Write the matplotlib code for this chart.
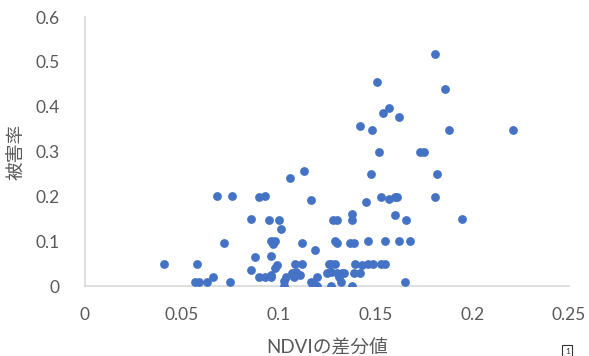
import matplotlib.pyplot as plt
from matplotlib.patches import Rectangle

plt.rcParams['font.family'] = ['Lato', 'Noto Sans CJK JP', 'DejaVu Sans']

# NDVI difference vs damage rate
ndvi_diff = [
    0.041, 0.057, 0.059, 0.058, 0.063, 0.066, 0.068, 0.072, 0.076, 0.075,
    0.086, 0.088, 0.086, 0.090, 0.093, 0.090, 0.093, 0.095, 0.100, 0.101,
    0.096, 0.098, 0.097, 0.096, 0.099, 0.098, 0.096, 0.096, 0.106, 0.113,
    0.117, 0.112, 0.119, 0.1085, 0.112, 0.104, 0.103, 0.103, 0.107, 0.109,
    0.111, 0.108, 0.117, 0.119, 0.120, 0.118, 0.120, 0.126, 0.127, 0.129,
    0.125, 0.127, 0.130, 0.131, 0.133, 0.134, 0.127, 0.132, 0.138, 0.128,
    0.130, 0.138, 0.138, 0.129, 0.130, 0.137, 0.139, 0.1395, 0.1476, 0.182,
    0.153, 0.157, 0.160, 0.161, 0.181, 0.145, 0.160, 0.166, 0.146, 0.155,
    0.162, 0.168, 0.143, 0.146, 0.149, 0.153, 0.155, 0.139, 0.142, 0.1655,
    0.181, 0.151, 0.186, 0.157, 0.154, 0.162, 0.142, 0.148, 0.188, 0.221,
    0.152, 0.173, 0.175, 0.195,
]
damage_rate = [
    0.050, 0.010, 0.010, 0.050, 0.010, 0.020, 0.200, 0.095, 0.200, 0.010,
    0.150, 0.065, 0.035, 0.020, 0.020, 0.198, 0.200, 0.148, 0.147, 0.127,
    0.100, 0.100, 0.093, 0.068, 0.047, 0.041, 0.025, 0.020, 0.240, 0.257,
    0.192, 0.097, 0.081, 0.049, 0.049, 0.019, 0.012, 0.000, 0.028, 0.032,
    0.025, 0.021, 0.010, 0.003, 0.000, 0.000, 0.019, 0.048, 0.048, 0.048,
    0.028, 0.032, 0.028, 0.021, 0.028, 0.028, 0.000, 0.008, 0.000, 0.148,
    0.148, 0.160, 0.147, 0.100, 0.095, 0.095, 0.097, 0.048, 0.250, 0.250,
    0.199, 0.194, 0.199, 0.199, 0.199, 0.187, 0.158, 0.148, 0.100, 0.100,
    0.100, 0.100, 0.047, 0.049, 0.049, 0.049, 0.049, 0.030, 0.030, 0.008,
    0.518, 0.454, 0.439, 0.398, 0.387, 0.378, 0.358, 0.349, 0.349, 0.349,
    0.298, 0.298, 0.298, 0.150,
]
x_ticks = [0, 0.05, 0.1, 0.15, 0.2, 0.25]
x_labels = ['0', '0.05', '0.1', '0.15', '0.2', '0.25']
y_ticks = [0, 0.1, 0.2, 0.3, 0.4, 0.5, 0.6]
y_labels = ['0', '0.1', '0.2', '0.3', '0.4', '0.5', '0.6']

fig = plt.figure(figsize=(5.89, 3.56), dpi=100)
ax = fig.add_axes([0.1443, 0.1966, 0.8217, 0.7556])

ax.scatter(ndvi_diff, damage_rate, s=40, color='#4472C4', linewidths=0, zorder=3)

ax.set_xlim(0, 0.25)
ax.set_ylim(0, 0.6)
ax.set_xticks(x_ticks)
ax.set_xticklabels(x_labels)
ax.set_yticks(y_ticks)
ax.set_yticklabels(y_labels)
ax.tick_params(length=0, colors='#595959', labelsize=12.5)
ax.tick_params(axis='x', pad=15)
ax.tick_params(axis='y', pad=18)

for side in ['top', 'right']:
    ax.spines[side].set_visible(False)
for side in ['left', 'bottom']:
    ax.spines[side].set_color('#D9D9D9')
    ax.spines[side].set_linewidth(1.2)

ax.set_xlabel('NDVIの差分値', fontsize=13.5, color='#595959', labelpad=12)
ax.set_ylabel('被害率', fontsize=13.5, color='#595959', labelpad=8)

# small icon box in the bottom-right corner
fig.patches.append(Rectangle((0.955, 0.0), 0.016, 0.03, transform=fig.transFigure,
                             fill=False, edgecolor='#333333', linewidth=0.8))
fig.text(0.963, 0.012, '1', fontsize=6, color='#333333', ha='center', va='center')

fig.savefig('out.png', dpi=100)
